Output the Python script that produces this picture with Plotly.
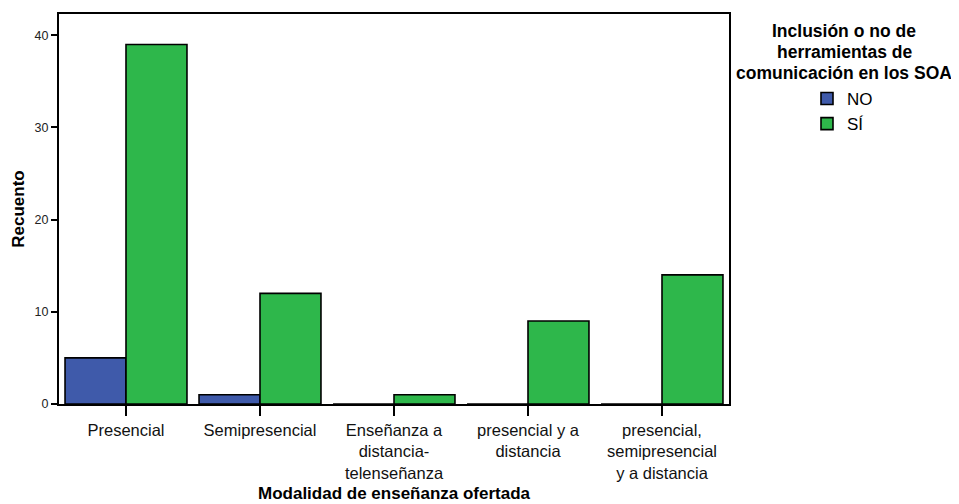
import plotly.graph_objects as go

categories = ["Presencial", "Semipresencial", "Enseñanza a<br>distancia-<br>telenseñanza",
              "presencial y a<br>distancia", "presencial,<br>semipresencial<br>y a distancia"]
series_names = ["NO", "SÍ"]
values_no = [5, 1, 0, 0, 0]
values_si = [39, 12, 1, 9, 14]
y_ticks = [0, 10, 20, 30, 40]
legend_title_lines = ["Inclusión o no de", "herramientas de", "comunicación en los SOA"]
x_title = "Modalidad de enseñanza ofertada"
y_title = "Recuento"

colors = {"NO": "#3F5AAA", "SÍ": "#2EB74B"}
FONT = "Liberation Sans, Arial, sans-serif"

fig = go.Figure()
for name, vals in zip(series_names, [values_no, values_si]):
    fig.add_trace(go.Bar(
        x=categories, y=vals, name=name,
        marker=dict(color=colors[name], line=dict(color="black", width=1.6)),
    ))

# page body has an 8px margin; figure is sized to fit the 959x504 window
W, H = 951, 496
ml, mr, mt, mb = 51, 230, 6, 100
PW, PH = W - ml - mr, H - mt - mb

def px(xf):
    return (xf - ml) / PW

def py(yf):
    return 1 - (yf - mt) / PH

for i, line in enumerate(legend_title_lines):
    fig.add_annotation(
        text="<b>%s</b>" % line, xref="paper", yref="paper",
        x=px(836), y=py(23 + 21 * i),
        xanchor="center", yanchor="middle", showarrow=False,
        font=dict(family=FONT, size=17.5, color="black"),
    )

fig.add_annotation(
    text="<b>%s</b>" % x_title, xref="paper", yref="paper",
    x=0.5, y=py(485), xanchor="center", yanchor="middle", showarrow=False,
    font=dict(family=FONT, size=17, color="black"),
)

fig.update_layout(
    width=W, height=H,
    margin=dict(l=ml, r=mr, t=mt, b=mb, autoexpand=False),
    paper_bgcolor="white", plot_bgcolor="white",
    barmode="group", bargap=0.09, bargroupgap=0,
    font=dict(family=FONT, color="black"),
    showlegend=True,
    legend=dict(
        x=px(799), y=py(73),
        xanchor="left", yanchor="top",
        font=dict(family=FONT, size=17, color="black"),
        bgcolor="rgba(0,0,0,0)", tracegroupgap=0,
    ),
    xaxis=dict(
        type="category",
        showline=True, linecolor="black", linewidth=2, mirror=True,
        ticks="outside", ticklen=10, tickwidth=1.6, tickcolor="black",
        tickfont=dict(family=FONT, size=16.5, color="#111"),
        showgrid=False, zeroline=False,
        automargin=False,
    ),
    yaxis=dict(
        range=[0, 42.3], tickvals=y_ticks,
        showline=True, linecolor="black", linewidth=2, mirror=True,
        ticks="outside", ticklen=6, tickwidth=1.6, tickcolor="black",
        tickfont=dict(family=FONT, size=12.5, color="#222"),
        showgrid=False, zeroline=False,
        title=dict(text="<b>%s</b>" % y_title, font=dict(family=FONT, size=17, color="black"), standoff=6),
        automargin=False,
    ),
)

fig.write_html("out.html")
